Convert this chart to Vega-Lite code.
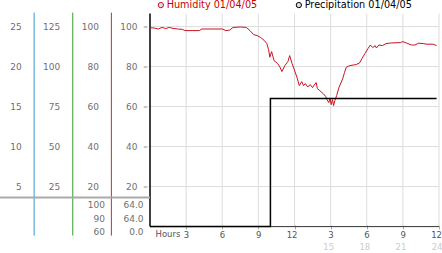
{
  "$schema": "https://vega.github.io/schema/vega-lite/v6.json",
  "width": 442,
  "height": 253,
  "autosize": {"type": "none"},
  "padding": 0,
  "background": "white",
  "config": {"view": {"stroke": null}, "font": "DejaVu Sans"},
  "datasets": {
    "humidity": [
      {"series": "Humidity 01/04/05", "hour": 0.0, "value": 99.5},
      {"series": "Humidity 01/04/05", "hour": 0.4, "value": 99.2},
      {"series": "Humidity 01/04/05", "hour": 0.7, "value": 98.8},
      {"series": "Humidity 01/04/05", "hour": 1.0, "value": 99.6},
      {"series": "Humidity 01/04/05", "hour": 1.3, "value": 99.0},
      {"series": "Humidity 01/04/05", "hour": 1.6, "value": 99.6},
      {"series": "Humidity 01/04/05", "hour": 1.9, "value": 99.1},
      {"series": "Humidity 01/04/05", "hour": 2.3, "value": 98.8},
      {"series": "Humidity 01/04/05", "hour": 2.7, "value": 98.6},
      {"series": "Humidity 01/04/05", "hour": 2.9, "value": 98.0},
      {"series": "Humidity 01/04/05", "hour": 3.5, "value": 98.0},
      {"series": "Humidity 01/04/05", "hour": 4.1, "value": 98.0},
      {"series": "Humidity 01/04/05", "hour": 4.3, "value": 98.8},
      {"series": "Humidity 01/04/05", "hour": 5.0, "value": 98.8},
      {"series": "Humidity 01/04/05", "hour": 6.0, "value": 98.8},
      {"series": "Humidity 01/04/05", "hour": 6.3, "value": 98.0},
      {"series": "Humidity 01/04/05", "hour": 6.6, "value": 98.2},
      {"series": "Humidity 01/04/05", "hour": 6.9, "value": 99.6},
      {"series": "Humidity 01/04/05", "hour": 7.5, "value": 99.8},
      {"series": "Humidity 01/04/05", "hour": 8.0, "value": 99.6},
      {"series": "Humidity 01/04/05", "hour": 8.3, "value": 98.0},
      {"series": "Humidity 01/04/05", "hour": 8.6, "value": 96.0},
      {"series": "Humidity 01/04/05", "hour": 8.9, "value": 95.5},
      {"series": "Humidity 01/04/05", "hour": 9.2, "value": 94.5},
      {"series": "Humidity 01/04/05", "hour": 9.5, "value": 93.0},
      {"series": "Humidity 01/04/05", "hour": 9.7, "value": 91.5},
      {"series": "Humidity 01/04/05", "hour": 9.85, "value": 88.5},
      {"series": "Humidity 01/04/05", "hour": 9.95, "value": 84.7},
      {"series": "Humidity 01/04/05", "hour": 10.1, "value": 87.5},
      {"series": "Humidity 01/04/05", "hour": 10.3, "value": 83.0},
      {"series": "Humidity 01/04/05", "hour": 10.6, "value": 81.5},
      {"series": "Humidity 01/04/05", "hour": 10.8, "value": 79.7},
      {"series": "Humidity 01/04/05", "hour": 10.95, "value": 77.5},
      {"series": "Humidity 01/04/05", "hour": 11.2, "value": 80.5},
      {"series": "Humidity 01/04/05", "hour": 11.45, "value": 82.5},
      {"series": "Humidity 01/04/05", "hour": 11.6, "value": 85.5},
      {"series": "Humidity 01/04/05", "hour": 11.8, "value": 81.5},
      {"series": "Humidity 01/04/05", "hour": 11.95, "value": 79.0},
      {"series": "Humidity 01/04/05", "hour": 12.2, "value": 74.7},
      {"series": "Humidity 01/04/05", "hour": 12.4, "value": 70.5},
      {"series": "Humidity 01/04/05", "hour": 12.6, "value": 72.5},
      {"series": "Humidity 01/04/05", "hour": 12.75, "value": 70.5},
      {"series": "Humidity 01/04/05", "hour": 12.9, "value": 71.5},
      {"series": "Humidity 01/04/05", "hour": 13.1, "value": 69.8},
      {"series": "Humidity 01/04/05", "hour": 13.3, "value": 71.0},
      {"series": "Humidity 01/04/05", "hour": 13.5, "value": 69.5},
      {"series": "Humidity 01/04/05", "hour": 13.6, "value": 70.5},
      {"series": "Humidity 01/04/05", "hour": 13.8, "value": 72.0},
      {"series": "Humidity 01/04/05", "hour": 13.9, "value": 69.0},
      {"series": "Humidity 01/04/05", "hour": 14.1, "value": 68.0},
      {"series": "Humidity 01/04/05", "hour": 14.4, "value": 66.4},
      {"series": "Humidity 01/04/05", "hour": 14.6, "value": 65.0},
      {"series": "Humidity 01/04/05", "hour": 14.7, "value": 63.5},
      {"series": "Humidity 01/04/05", "hour": 14.85, "value": 62.0},
      {"series": "Humidity 01/04/05", "hour": 14.95, "value": 64.0},
      {"series": "Humidity 01/04/05", "hour": 15.05, "value": 61.0},
      {"series": "Humidity 01/04/05", "hour": 15.15, "value": 63.5},
      {"series": "Humidity 01/04/05", "hour": 15.25, "value": 60.5},
      {"series": "Humidity 01/04/05", "hour": 15.35, "value": 63.0},
      {"series": "Humidity 01/04/05", "hour": 15.5, "value": 65.5},
      {"series": "Humidity 01/04/05", "hour": 15.7, "value": 69.7},
      {"series": "Humidity 01/04/05", "hour": 16.0, "value": 73.9},
      {"series": "Humidity 01/04/05", "hour": 16.15, "value": 77.0},
      {"series": "Humidity 01/04/05", "hour": 16.3, "value": 79.7},
      {"series": "Humidity 01/04/05", "hour": 16.6, "value": 80.5},
      {"series": "Humidity 01/04/05", "hour": 17.1, "value": 81.0},
      {"series": "Humidity 01/04/05", "hour": 17.4, "value": 81.8},
      {"series": "Humidity 01/04/05", "hour": 17.6, "value": 84.0},
      {"series": "Humidity 01/04/05", "hour": 17.85, "value": 86.5},
      {"series": "Humidity 01/04/05", "hour": 18.1, "value": 89.0},
      {"series": "Humidity 01/04/05", "hour": 18.3, "value": 90.8},
      {"series": "Humidity 01/04/05", "hour": 18.5, "value": 89.5},
      {"series": "Humidity 01/04/05", "hour": 18.7, "value": 90.5},
      {"series": "Humidity 01/04/05", "hour": 18.8, "value": 89.3},
      {"series": "Humidity 01/04/05", "hour": 19.0, "value": 90.8},
      {"series": "Humidity 01/04/05", "hour": 19.3, "value": 90.5},
      {"series": "Humidity 01/04/05", "hour": 19.6, "value": 91.5},
      {"series": "Humidity 01/04/05", "hour": 20.0, "value": 91.8},
      {"series": "Humidity 01/04/05", "hour": 20.8, "value": 92.0},
      {"series": "Humidity 01/04/05", "hour": 21.0, "value": 92.5},
      {"series": "Humidity 01/04/05", "hour": 21.3, "value": 91.8},
      {"series": "Humidity 01/04/05", "hour": 21.7, "value": 90.8},
      {"series": "Humidity 01/04/05", "hour": 22.0, "value": 90.8},
      {"series": "Humidity 01/04/05", "hour": 22.3, "value": 91.7},
      {"series": "Humidity 01/04/05", "hour": 22.7, "value": 91.5},
      {"series": "Humidity 01/04/05", "hour": 23.0, "value": 91.2},
      {"series": "Humidity 01/04/05", "hour": 23.5, "value": 91.2},
      {"series": "Humidity 01/04/05", "hour": 23.8, "value": 90.5}
    ],
    "precip": [
      {"series": "Precipitation 01/04/05", "hour": 0.0, "value": 0.0},
      {"series": "Precipitation 01/04/05", "hour": 10.0, "value": 0.0},
      {"series": "Precipitation 01/04/05", "hour": 10.0, "value": 64.0},
      {"series": "Precipitation 01/04/05", "hour": 23.8, "value": 64.0}
    ],
    "levels": [{"level": 20}, {"level": 40}, {"level": 60}, {"level": 80}, {"level": 100}],
    "hours": [{"hour": 3}, {"hour": 6}, {"hour": 9}, {"hour": 12}, {"hour": 15}, {"hour": 18}, {"hour": 21}, {"hour": 24}],
    "columns": [{"col": "c1"}, {"col": "c2"}, {"col": "c3"}, {"col": "c4"}],
    "sensors": [{"col": "c1"}, {"col": "c2"}, {"col": "c3"}],
    "scaleLabels": [
      {"col": "c1", "level": 100, "label": "25"},
      {"col": "c1", "level": 80, "label": "20"},
      {"col": "c1", "level": 60, "label": "15"},
      {"col": "c1", "level": 40, "label": "10"},
      {"col": "c1", "level": 20, "label": "5"},
      {"col": "c2", "level": 100, "label": "125"},
      {"col": "c2", "level": 80, "label": "100"},
      {"col": "c2", "level": 60, "label": "75"},
      {"col": "c2", "level": 40, "label": "50"},
      {"col": "c2", "level": 20, "label": "25"},
      {"col": "c3", "level": 100, "label": "100"},
      {"col": "c3", "level": 80, "label": "80"},
      {"col": "c3", "level": 60, "label": "60"},
      {"col": "c3", "level": 40, "label": "40"},
      {"col": "c3", "level": 20, "label": "20"},
      {"col": "c4", "level": 100, "label": "100"},
      {"col": "c4", "level": 80, "label": "80"},
      {"col": "c4", "level": 60, "label": "60"},
      {"col": "c4", "level": 40, "label": "40"},
      {"col": "c4", "level": 20, "label": "20"}
    ],
    "stats": [
      {"col": "c3", "stat": "max", "label": "100"},
      {"col": "c3", "stat": "last", "label": "90"},
      {"col": "c3", "stat": "min", "label": "60"},
      {"col": "c4", "stat": "max", "label": "64.0"},
      {"col": "c4", "stat": "last", "label": "64.0"},
      {"col": "c4", "stat": "min", "label": "0.0"}
    ]
  },
  "layer": [
    {
      "layer": [
        {
          "data": {"name": "levels"},
          "mark": {"type": "rule", "color": "#dddddd", "strokeWidth": 1},
          "encoding": {
            "y": {"field": "level", "type": "quantitative", "scale": {"domain": [-13.2, 113.3], "nice": false, "zero": false}, "axis": null},
            "x": {"datum": 0, "type": "quantitative", "scale": {"domain": [0, 24], "range": [150, 439], "nice": false, "zero": false}, "axis": null},
            "x2": {"datum": 24}
          }
        },
        {
          "data": {"name": "hours"},
          "mark": {"type": "rule", "color": "#dddddd", "strokeWidth": 1},
          "encoding": {
            "x": {"field": "hour", "type": "quantitative", "scale": {"domain": [0, 24], "range": [150, 439], "nice": false, "zero": false}, "axis": null},
            "y": {"datum": 0, "type": "quantitative", "scale": {"domain": [-13.2, 113.3], "nice": false, "zero": false}, "axis": null},
            "y2": {"datum": 106.5}
          }
        },
        {
          "data": {"values": [{}]},
          "mark": {"type": "rule", "color": "#333333", "strokeWidth": 1},
          "encoding": {
            "x": {"datum": 0, "type": "quantitative", "scale": {"domain": [0, 24], "range": [150, 439], "nice": false, "zero": false}, "axis": null},
            "x2": {"datum": 24},
            "y": {"datum": 0, "type": "quantitative", "scale": {"domain": [-13.2, 113.3], "nice": false, "zero": false}, "axis": null}
          }
        },
        {
          "data": {"values": [{}]},
          "mark": {"type": "rule", "color": "#000000", "strokeWidth": 1.5},
          "encoding": {
            "x": {"datum": 0, "type": "quantitative", "scale": {"domain": [0, 24], "range": [150, 439], "nice": false, "zero": false}, "axis": null},
            "y": {"datum": 0, "type": "quantitative", "scale": {"domain": [-13.2, 113.3], "nice": false, "zero": false}, "axis": null},
            "y2": {"datum": 106.5}
          }
        },
        {
          "data": {"name": "humidity"},
          "mark": {"type": "line", "strokeWidth": 1},
          "encoding": {
            "x": {"field": "hour", "type": "quantitative", "scale": {"domain": [0, 24], "range": [150, 439], "nice": false, "zero": false},
              "axis": {"orient": "bottom", "offset": -28, "values": [3, 6, 9, 12, 15, 18, 21, 24],
                "labelExpr": "datum.value % 12 == 0 ? '12' : '' + (datum.value % 12)",
                "domain": false, "grid": false, "ticks": true, "tickSize": 4, "tickColor": "#aaaaaa",
                "labelPadding": 1, "labelAlign": "right", "labelOffset": 2.5, "labelFont": "DejaVu Sans", "labelFontSize": 8.5, "labelColor": "#555555",
                "labelFlush": false, "labelOverlap": false,
                "title": "Hours", "titleX": 155, "titleY": 4, "titleAlign": "left", "titleBaseline": "top",
                "titleFont": "DejaVu Sans", "titleFontSize": 8.5, "titleFontWeight": "normal", "titleColor": "#555555"}},
            "y": {"field": "value", "type": "quantitative", "scale": {"domain": [-13.2, 113.3], "nice": false, "zero": false}, "axis": null},
            "stroke": {"field": "series", "type": "nominal",
              "scale": {"domain": ["Humidity 01/04/05", "Precipitation 01/04/05"], "range": ["#cc1122", "#000000"]},
              "legend": {"orient": "none", "legendX": 156, "legendY": 0, "direction": "horizontal", "title": null,
                "symbolType": "circle", "symbolSize": 28, "symbolStrokeWidth": 1,
                "symbolFillColor": "#dddddd", "symbolStrokeColor": "#999999",
                "labelFont": "DejaVu Sans", "labelFontSize": 9.7, "labelOffset": 1, "columnPadding": 36, "padding": 0,
                "labelColor": {"expr": "datum.value == 'Humidity 01/04/05' ? '#cc0000' : '#000000'"}}}
          }
        },
        {
          "data": {"name": "precip"},
          "mark": {"type": "line", "strokeWidth": 1.5},
          "encoding": {
            "x": {"field": "hour", "type": "quantitative", "scale": {"domain": [0, 24], "range": [150, 439], "nice": false, "zero": false},
              "axis": {"orient": "bottom", "offset": -13, "values": [15, 18, 21, 24],
                "domain": false, "grid": false, "ticks": false, "labelPadding": 2,
                "labelAlign": "right", "labelOffset": 3,
                "labelFont": "DejaVu Sans", "labelFontSize": 8.5, "labelColor": "#cccccc",
                "labelFlush": false, "labelOverlap": false, "title": null}},
            "y": {"field": "value", "type": "quantitative", "scale": {"domain": [-13.2, 113.3], "nice": false, "zero": false}, "axis": null},
            "stroke": {"field": "series", "type": "nominal",
              "scale": {"domain": ["Humidity 01/04/05", "Precipitation 01/04/05"], "range": ["#cc1122", "#000000"]}}
          }
        }
      ],
      "resolve": {"axis": {"x": "independent"}}
    },
    {
      "layer": [
        {
          "data": {"name": "sensors"},
          "mark": {"type": "rule", "strokeWidth": 1},
          "encoding": {
            "x": {"field": "col", "type": "nominal", "bandPosition": 1,
              "scale": {"type": "band", "domain": ["c1", "c2", "c3", "c4"], "range": [-4.5, 150], "paddingInner": 0, "paddingOuter": 0}, "axis": null},
            "y": {"datum": 107, "type": "quantitative", "scale": {"domain": [-13.2, 113.3], "nice": false, "zero": false}, "axis": null},
            "y2": {"datum": -4.5},
            "color": {"field": "col", "type": "nominal", "scale": {"domain": ["c1", "c2", "c3"], "range": ["#3399cc", "#33a033", "#c03030"]}, "legend": null}
          }
        },
        {
          "data": {"name": "columns"},
          "mark": {"type": "bar", "color": "#aaaaaa"},
          "encoding": {
            "x": {"field": "col", "type": "nominal",
              "scale": {"type": "band", "domain": ["c1", "c2", "c3", "c4"], "range": [-4.5, 150], "paddingInner": 0, "paddingOuter": 0}, "axis": null},
            "y": {"datum": 14, "type": "quantitative", "scale": {"domain": [-13.2, 113.3], "nice": false, "zero": false}, "axis": null},
            "y2": {"datum": 15}
          }
        },
        {
          "data": {"name": "scaleLabels"},
          "mark": {"type": "text", "align": "right", "baseline": "middle", "dx": -12.5, "font": "DejaVu Sans", "fontSize": 9, "color": "#707070"},
          "encoding": {
            "x": {"field": "col", "type": "nominal", "bandPosition": 1,
              "scale": {"type": "band", "domain": ["c1", "c2", "c3", "c4"], "range": [-4.5, 150], "paddingInner": 0, "paddingOuter": 0}, "axis": null},
            "y": {"field": "level", "type": "quantitative", "scale": {"domain": [-13.2, 113.3], "nice": false, "zero": false}, "axis": null},
            "text": {"field": "label"}
          }
        },
        {
          "data": {"name": "scaleLabels"},
          "transform": [{"filter": "datum.col == 'c4'"}],
          "mark": {"type": "text", "align": "center", "baseline": "middle", "dx": -4.5, "text": "≈", "font": "DejaVu Sans", "fontSize": 6, "color": "#999999"},
          "encoding": {
            "x": {"field": "col", "type": "nominal", "bandPosition": 1,
              "scale": {"type": "band", "domain": ["c1", "c2", "c3", "c4"], "range": [-4.5, 150], "paddingInner": 0, "paddingOuter": 0}, "axis": null},
            "y": {"field": "level", "type": "quantitative", "scale": {"domain": [-13.2, 113.3], "nice": false, "zero": false}, "axis": null}
          }
        }
      ]
    },
    {
      "data": {"name": "stats"},
      "mark": {"type": "text", "align": "right", "baseline": "middle", "dx": -6.5, "font": "DejaVu Sans", "fontSize": 9, "color": "#707070"},
      "encoding": {
        "x": {"field": "col", "type": "nominal", "bandPosition": 1,
          "scale": {"type": "band", "domain": ["c1", "c2", "c3", "c4"], "range": [-4.5, 150], "paddingInner": 0, "paddingOuter": 0}, "axis": null},
        "y": {"field": "stat", "type": "nominal", "scale": {"type": "point", "domain": ["max", "last", "min"], "range": [205, 232], "padding": 0}, "axis": null},
        "text": {"field": "label"}
      }
    }
  ],
  "resolve": {"scale": {"x": "independent", "y": "independent", "color": "independent", "stroke": "independent"}}
}
